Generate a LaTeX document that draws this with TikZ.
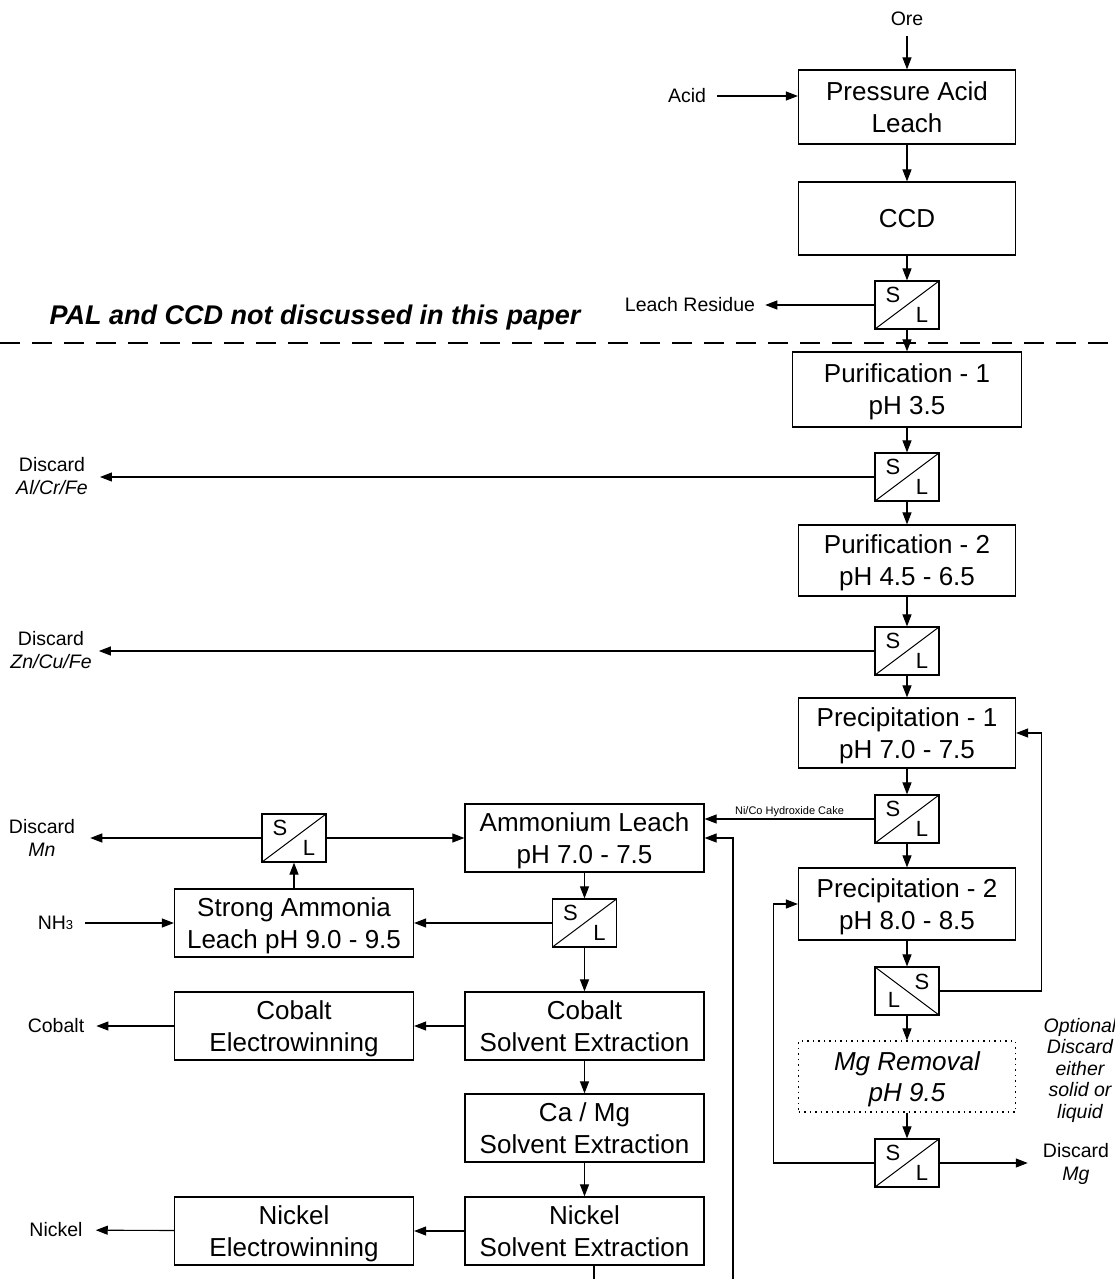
\documentclass[tikz,border=0pt]{standalone}
\usepackage{fontspec}
\setmainfont{Liberation Sans}
\usetikzlibrary{arrows.meta}

\begin{document}
\begin{tikzpicture}[
    x=1pt, y=-1pt,
    >={Triangle[length=12pt,width=9pt]},
    unit/.style={draw, line width=1.2pt, align=center, inner sep=0pt, text depth=0pt,
      minimum width=217pt, minimum height=72pt, font=\fontsize{26}{32}\selectfont},
    wideunit/.style={unit, minimum width=239pt, minimum height=68pt},
    optunit/.style={unit, dash pattern=on 1.5pt off 4pt, font=\fontsize{26}{31}\selectfont\itshape},
    sldiv/.style={draw, line width=1.2pt, minimum width=64pt, minimum height=48pt, inner sep=0pt,
      path picture={
        \draw[line width=1pt] (path picture bounding box.south west) -- (path picture bounding box.north east);
        \node[font=\fontsize{22}{22}\selectfont] at ([xshift=-14pt,yshift=10pt]path picture bounding box.center) {S};
        \node[font=\fontsize{22}{22}\selectfont] at ([xshift=15pt,yshift=-10pt]path picture bounding box.center) {L};
      }},
    sldivr/.style={draw, line width=1.2pt, minimum width=64pt, minimum height=48pt, inner sep=0pt,
      path picture={
        \draw[line width=1pt] (path picture bounding box.north west) -- (path picture bounding box.south east);
        \node[font=\fontsize{22}{22}\selectfont] at ([xshift=15pt,yshift=9pt]path picture bounding box.center) {S};
        \node[font=\fontsize{22}{22}\selectfont] at ([xshift=-13pt,yshift=-9pt]path picture bounding box.center) {L};
      }},
    lbl/.style={font=\fontsize{19.5}{23}\selectfont, align=center, inner sep=0pt},
    arr/.style={->, line width=1.1pt},
    ln/.style={line width=1.1pt},
  ]
    \useasboundingbox (0,0) rectangle (1115,1279);

    % --- PAL and CCD ---
    \node[lbl] (ore) at (907,19) {Ore};
    \node[lbl] (acid) at (687,96) {Acid};
    \node[unit, minimum height=74pt] (pal) at (907,107) {Pressure Acid\\Leach};
    \node[unit, minimum height=73pt] (ccd) at (907,218.5) {CCD};
    \node[sldiv] (sl1) at (907,305) {};
    \node[lbl] (res) at (690,305) {Leach Residue};
    \draw[arr, shorten <=10pt] (ore) -- (pal);
    \draw[arr, shorten <=11pt] (acid) -- (acid -| pal.west);
    \draw[arr] (pal) -- (ccd);
    \draw[arr] (ccd) -- (sl1);
    \draw[arr, shorten >=10pt] (sl1.west) -- (res.east);

    % --- boundary ---
    \node[font=\fontsize{27}{30}\selectfont\bfseries\itshape] (note) at (315,318) {PAL and CCD not discussed in this paper};
    \draw[line width=2pt, dash pattern=on 20pt off 12pt] (0,343) -- (1115,343);

    % --- purification and precipitation ---
    \node[unit, minimum width=229pt, minimum height=75pt] (pur1) at (907,389.5) {Purification - 1\\pH 3.5};
    \node[sldiv] (sl2) at (907,477) {};
    \node[lbl] (disc1) at (52,476) {Discard\\\textit{Al/Cr/Fe}};
    \node[unit, minimum height=71pt] (pur2) at (907,560.5) {Purification - 2\\pH 4.5 - 6.5};
    \node[sldiv] (sl3) at (907,651) {};
    \node[lbl] (disc2) at (51,650) {Discard\\\textit{Zn/Cu/Fe}};
    \node[unit, minimum height=70pt] (prec1) at (907,733) {Precipitation - 1\\pH 7.0 - 7.5};
    \node[sldiv] (sl4) at (907,819) {};
    \node[unit] (prec2) at (907,904) {Precipitation - 2\\pH 8.0 - 8.5};
    \node[sldivr] (sl5) at (907,991) {};
    \node[optunit, minimum height=71pt] (mgrem) at (907,1076.5) {Mg Removal\\pH 9.5};
    \node[sldiv] (sl6) at (907,1163) {};
    \node[lbl] (discmg) at (1076,1164) {Discard\\\textit{Mg}};
    \node[lbl, font=\fontsize{19.5}{21.5}\selectfont\itshape] (optnote) at (1080,1070) {Optional\\Discard\\either\\solid or\\liquid};
    \draw[arr] (sl1) -- (pur1);
    \draw[arr] (pur1) -- (sl2);
    \draw[arr, shorten >=12pt] (sl2.west) -- (disc1.east |- sl2.west);
    \draw[arr] (sl2) -- (pur2);
    \draw[arr] (pur2) -- (sl3);
    \draw[arr, shorten >=7pt] (sl3.west) -- (disc2.east |- sl3.west);
    \draw[arr] (sl3) -- (prec1);
    \draw[arr] (prec1) -- (sl4);
    \draw[arr] (sl4) -- (prec2);
    \draw[arr] (prec2) -- (sl5);
    \draw[arr] (sl5.east) -- ++(102,0) |- (prec1.east);
    \draw[arr] (sl5) -- (mgrem);
    \draw[arr] (mgrem) -- (sl6);
    \draw[arr, shorten >=15pt] (sl6.east) -- (discmg.west |- sl6.east);
    \draw[arr] (sl6.west) -- ++(-101,0) |- (prec2.west);

    % --- ammonia leach and solvent extraction ---
    \node[wideunit] (amm) at (584.5,838) {Ammonium Leach\\pH 7.0 - 7.5};
    \node[sldiv] (sl7) at (584.5,923) {};
    \node[wideunit] (sal) at (294,923) {Strong Ammonia\\Leach pH 9.0 - 9.5};
    \node[sldiv] (sl8) at (294,838) {};
    \node[lbl] (discmn) at (42,838) {Discard\\\textit{Mn}};
    \node[lbl] (nh3) at (55.5,923) {NH{\fontsize{13}{13}\selectfont 3}};
    \node[wideunit] (cosx) at (584.5,1026) {Cobalt\\Solvent Extraction};
    \node[wideunit] (coew) at (294,1026) {Cobalt\\Electrowinning};
    \node[lbl] (cobalt) at (56,1026) {Cobalt};
    \node[wideunit] (camg) at (584.5,1128) {Ca / Mg\\Solvent Extraction};
    \node[wideunit] (nisx) at (584.5,1231) {Nickel\\Solvent Extraction};
    \node[wideunit] (niew) at (294,1231) {Nickel\\Electrowinning};
    \node[lbl] (nickel) at (56,1230) {Nickel};
    \coordinate (ret) at (733,1279);
    \coordinate (niout) at (594,1279);
    \draw[arr] (sl4.west) -- (amm.east |- sl4.west)
      node[midway, above=2pt, font=\fontsize{11}{11}\selectfont, inner sep=0pt] (cake) {Ni/Co Hydroxide Cake};
    \draw[arr] (ret) |- (amm.east);
    \draw[arr] (amm) -- (sl7);
    \draw[arr] (sl7) -- (sal);
    \draw[arr, shorten <=12pt] (nh3) -- (sal);
    \draw[arr] (sal) -- (sl8);
    \draw[arr, shorten >=15pt] (sl8.west) -- (discmn.east |- sl8.west);
    \draw[arr] (sl8) -- (amm);
    \draw[arr] (sl7) -- (cosx);
    \draw[arr] (cosx) -- (coew);
    \draw[arr, shorten >=12pt] (coew) -- (cobalt);
    \draw[arr] (cosx) -- (camg);
    \draw[arr] (camg) -- (nisx);
    \draw[arr] (nisx) -- (niew);
    \draw[arr, shorten >=13pt] (niew) -- (nickel);
    \draw[ln] (niout |- nisx.south) -- (niout);
\end{tikzpicture}
\end{document}
